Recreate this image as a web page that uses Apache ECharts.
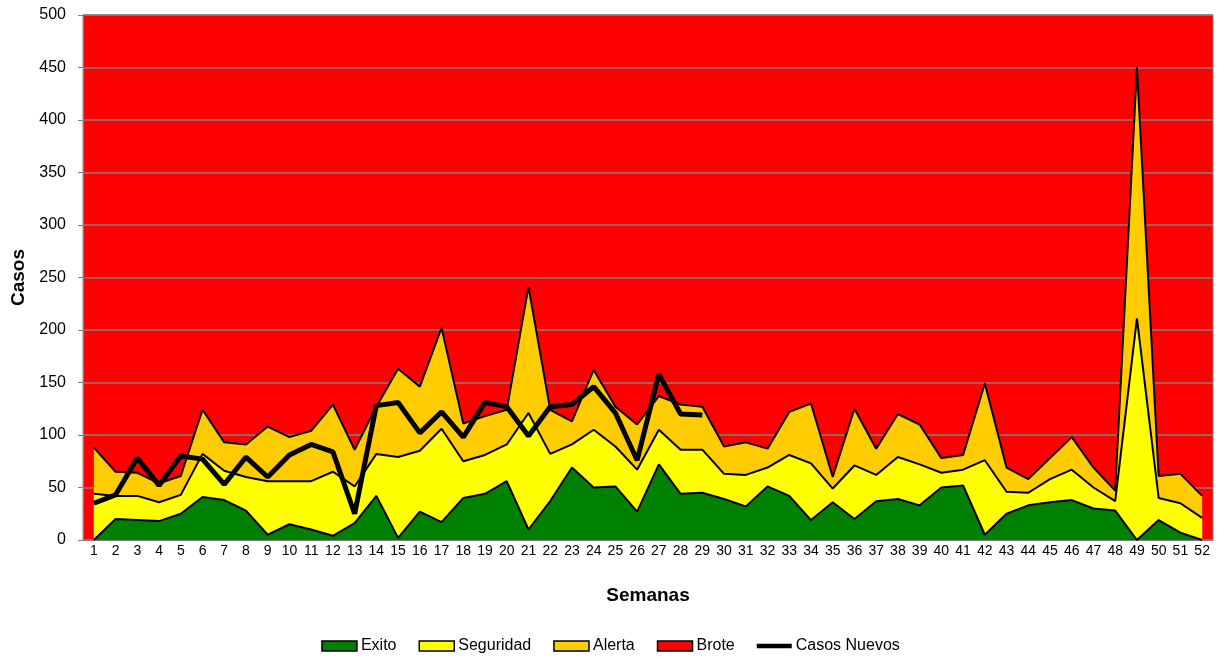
<!DOCTYPE html>
<html lang="es">
<head>
    <meta charset="UTF-8">
    <title>Canal endémico</title>
    <style>
        html, body { margin: 0; padding: 0; background: #fff; }
    </style>
</head>
<body>
<div id="main" style="width:1221px; height:660px"></div>

<script src="https://cdn.jsdelivr.net/npm/echarts@6/dist/echarts.min.js"></script>
<script>
    // semanas epidemiologicas
    var semanas = [];
    for (var i = 1; i <= 52; i++) semanas.push(String(i));

    // limites del canal (valores acumulados)
    var exito = [0, 20, 19, 18, 25, 41, 38, 28, 5, 15, 10, 4, 16, 42, 2, 27, 17, 40, 44, 56,
        10, 37, 69, 50, 51, 27, 72, 44, 45, 39, 32, 51, 42, 19, 36, 20, 37, 39, 33, 50,
        52, 5, 25, 33, 36, 38, 30, 28, 0, 19, 7, 0];
    var seguridad = [44, 42, 42, 36, 43, 82, 66, 60, 56, 56, 56, 65, 51, 82, 79, 85, 106, 75, 81, 91,
        121, 82, 91, 105, 89, 67, 105, 86, 86, 63, 62, 69, 81, 73, 49, 71, 62, 79, 72, 64,
        67, 76, 46, 45, 58, 67, 50, 37, 211, 40, 35, 21];
    var alerta = [88, 65, 64, 54, 61, 124, 93, 91, 108, 98, 104, 129, 86, 127, 163, 146, 202, 111, 118, 124,
        241, 124, 113, 162, 127, 110, 137, 129, 127, 89, 93, 87, 122, 130, 60, 125, 87, 120, 110, 78,
        81, 149, 69, 58, 78, 98, 69, 47, 450, 61, 63, 42];
    var brote = [];
    for (var j = 0; j < 52; j++) brote.push(500);

    // casos nuevos (semanas 1 a 29)
    var casosNuevos = [35, 43, 78, 52, 80, 77, 53, 79, 60, 81, 91, 84, 25, 128, 131, 102, 122, 98, 131, 127,
        99, 127, 129, 146, 121, 76, 158, 120, 119];

    var myChart = echarts.init(document.getElementById('main'));
    var fuente = 'Liberation Sans';

    function area(nombre, datos, color) {
        return {
            name: nombre,
            type: 'line',
            data: datos,
            symbol: 'none',
            color: color,
            lineStyle: { color: '#000', width: 2 },
            areaStyle: { color: color, opacity: 1 },
            emphasis: { disabled: true },
            animation: false
        };
    }

    var option = {
        backgroundColor: '#fff',
        grid: {
            left: 83, right: 8, top: 15, bottom: 120,
            show: true, backgroundColor: '#FF0000', borderColor: '#808080', borderWidth: 1
        },
        legend: {
            top: 633,
            left: 'center',
            itemWidth: 35,
            itemHeight: 10,
            itemGap: 22,
            textStyle: { fontFamily: fuente, fontSize: 16, color: '#000', padding: [0, 0, 0, -1] },
            data: [
                { name: 'Exito', icon: 'rect', itemStyle: { color: '#008000', borderColor: '#000', borderWidth: 1.5 } },
                { name: 'Seguridad', icon: 'rect', itemStyle: { color: '#FFFF00', borderColor: '#000', borderWidth: 1.5 } },
                { name: 'Alerta', icon: 'rect', itemStyle: { color: '#FFCC00', borderColor: '#000', borderWidth: 1.5 } },
                { name: 'Brote', icon: 'rect', itemStyle: { color: '#FF0000', borderColor: '#000', borderWidth: 1.5 } },
                { name: 'Casos Nuevos', icon: 'path://M0,0 L40,0 L40,5 L0,5 Z', itemStyle: { color: '#000' } }
            ]
        },
        xAxis: {
            type: 'category',
            data: semanas,
            boundaryGap: true,
            name: 'Semanas',
            nameLocation: 'middle',
            nameGap: 46,
            nameTextStyle: { fontFamily: fuente, fontSize: 19, fontWeight: 'bold', color: '#000' },
            axisLine: { lineStyle: { color: '#808080' } },
            axisTick: { lineStyle: { color: '#808080' }, length: 5 },
            axisLabel: { fontFamily: fuente, fontSize: 14, color: '#000', interval: 0, margin: 4 }
        },
        yAxis: {
            type: 'value',
            min: 0,
            max: 500,
            interval: 50,
            name: 'Casos',
            nameLocation: 'middle',
            nameGap: 54,
            nameTextStyle: { fontFamily: fuente, fontSize: 19, fontWeight: 'bold', color: '#000' },
            axisLine: { show: true, lineStyle: { color: '#808080' } },
            axisTick: { show: true, lineStyle: { color: '#808080' }, length: 5 },
            axisLabel: { fontFamily: fuente, fontSize: 16, color: '#000', margin: 17 },
            splitLine: { lineStyle: { color: '#808080', width: 1.5 } }
        },
        series: [
            {
                // Brote: zona roja (fondo del grafico), solo en la leyenda
                name: 'Brote',
                type: 'line',
                data: brote,
                symbol: 'none',
                color: '#FF0000',
                lineStyle: { width: 0, opacity: 0 },
                areaStyle: { color: '#FF0000', opacity: 0 },
                animation: false
            },
            area('Alerta', alerta, '#FFCC00'),
            area('Seguridad', seguridad, '#FFFF00'),
            area('Exito', exito, '#008000'),
            {
                name: 'Casos Nuevos',
                type: 'line',
                data: casosNuevos,
                symbol: 'none',
                color: '#000',
                lineStyle: { color: '#000', width: 5 },
                animation: false
            }
        ]
    };

    myChart.setOption(option);
</script>
</body>
</html>
